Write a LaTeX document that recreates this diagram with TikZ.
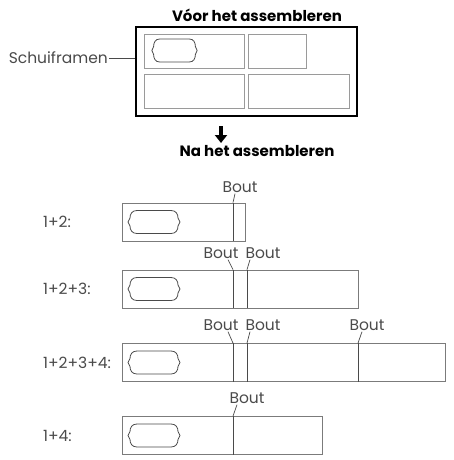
\documentclass[tikz,border=0pt]{standalone}
\usepackage{fontspec}
\setmainfont{Poppins}
\usetikzlibrary{positioning,arrows.meta}
\definecolor{framegray}{HTML}{9A9A9A}
\definecolor{textgray}{HTML}{4A4A4A}
\tikzset{
  panel/.style={draw=framegray, line width=0.9pt, inner sep=0pt, minimum height=34pt},
  bar/.style={draw=framegray!80!black, line width=0.8pt, inner sep=0pt, minimum height=38pt, anchor=west},
  lbl/.style={text=textgray, font=\fontsize{15.5}{17}\selectfont, inner sep=1pt},
  ttl/.style={font=\fontsize{15}{17}\selectfont\bfseries, inner sep=1pt},
  joint/.style={draw=textgray, line width=0.7pt},
  handle/.pic={
    \draw[textgray, line width=0.8pt]
      (-17,-11.5) -- (17,-11.5) .. controls (22,-11.5) and (24,-8) .. (24,-4)
      -- (26,0) -- (24,4) .. controls (24,8) and (22,11.5) .. (17,11.5)
      -- (-17,11.5) .. controls (-22,11.5) and (-24,8) .. (-24,4)
      -- (-26,0) -- (-24,-4) .. controls (-24,-8) and (-22,-11.5) .. cycle;
  }
}
\begin{document}
\begin{tikzpicture}[x=1pt, y=-1pt]
  \useasboundingbox (0,0) rectangle (454,460);
  % before assembling
  \node[ttl] (before) at (257,15) {Vóor het assembleren};
  \node[draw, line width=1.4pt, minimum width=221pt, minimum height=89pt, inner sep=0pt] (frame) at (246.5,71.5) {};
  \node[panel, minimum width=100pt] (p1) at (194,51) {};
  \node[panel, minimum width=58pt] (p2) at (277,51) {};
  \node[panel, minimum width=100pt] (p3) at (194,91) {};
  \node[panel, minimum width=101pt] (p4) at (298.5,91) {};
  \pic[xscale=0.87] at (174.5,50.5) {handle};
  \node[lbl, anchor=east] (schuif) at (109,58) {Schuiframen};
  \draw[textgray, line width=0.8pt] (schuif.east) -- (schuif.east -| frame.west);
  \coordinate (arrowtop) at (221,126);
  \coordinate (arrowtip) at (221,143);
  \draw[line width=3.2pt, -{Triangle[width=12pt,length=8pt]}] (arrowtop) -- (arrowtip);
  \node[ttl] (after) at (257,151) {Na het assembleren};

  % after assembling
  \foreach \row/\y/\w/\txt in {a/222/123/1+2:, b/289/236/1+2+3:, c/362.5/323/1+2+3+4:, d/435.5/200/1+4:} {
    \node[bar, minimum width=\w pt] (bar\row) at (122,\y) {};
    \node[lbl, anchor=west] (row\row) at (42,\y) {\txt};
    \pic at (154,\y) {handle};
  }
  \coordinate (ja) at (233,0);
  \coordinate (jb) at (247,0);
  \coordinate (jc) at (358,0);
  \foreach \row in {a,b,c,d}
    \draw[joint] (ja |- bar\row.north) -- (ja |- bar\row.south);
  \foreach \row in {b,c}
    \draw[joint] (jb |- bar\row.north) -- (jb |- bar\row.south);
  \draw[joint] (jc |- barc.north) -- (jc |- barc.south);

  \node[lbl] (bouta) at (240,187) {Bout};
  \node[lbl] (boutb1) at (221,253) {Bout};
  \node[lbl] (boutb2) at (263,253) {Bout};
  \node[lbl] (boutc1) at (221,325) {Bout};
  \node[lbl] (boutc2) at (263,325) {Bout};
  \node[lbl] (boutc3) at (367,325) {Bout};
  \node[lbl] (boutd) at (247,398) {Bout};
  \draw[joint] ([xshift=-5pt]bouta.south) -- (ja |- bara.north);
  \draw[joint] ([xshift=7pt]boutb1.south) -- (ja |- barb.north);
  \draw[joint] ([xshift=-13pt]boutb2.south) -- (jb |- barb.north);
  \draw[joint] ([xshift=7pt]boutc1.south) -- (ja |- barc.north);
  \draw[joint] ([xshift=-13pt]boutc2.south) -- (jb |- barc.north);
  \draw[joint] ([xshift=-5pt]boutc3.south) -- (jc |- barc.north);
  \draw[joint] ([xshift=-10pt]boutd.south) -- (ja |- bard.north);
\end{tikzpicture}
\end{document}
